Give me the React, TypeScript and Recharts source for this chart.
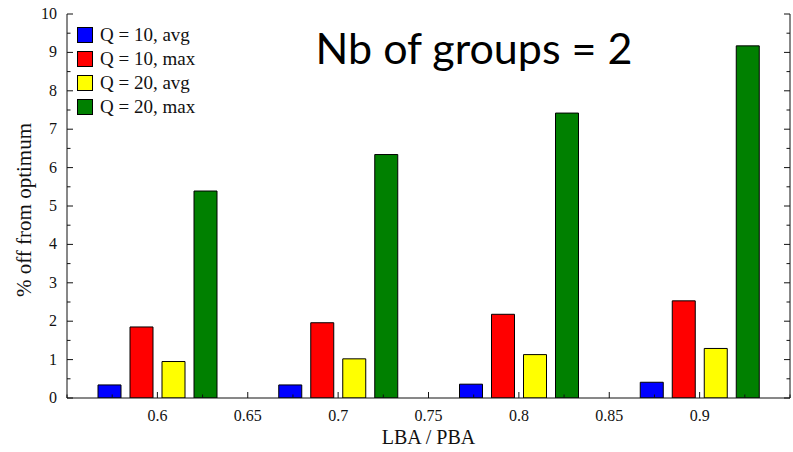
import { Bar, BarChart, XAxis, YAxis, Label } from 'recharts'

const ratios = [0.6, 0.7, 0.8, 0.9]
const q10Avg = [0.34, 0.34, 0.36, 0.41]
const q10Max = [1.85, 1.96, 2.18, 2.53]
const q20Avg = [0.95, 1.02, 1.13, 1.29]
const q20Max = [5.39, 6.34, 7.42, 9.17]

const xTicks = [0.55, 0.575, 0.6, 0.625, 0.65, 0.675, 0.7, 0.725, 0.75, 0.775, 0.8, 0.825, 0.85, 0.875, 0.9, 0.925, 0.95]
const xLabels = [0.6, 0.65, 0.7, 0.75, 0.8, 0.85, 0.9]
const yTicks = [0, 0.5, 1, 1.5, 2, 2.5, 3, 3.5, 4, 4.5, 5, 5.5, 6, 6.5, 7, 7.5, 8, 8.5, 9, 9.5, 10]

const series = [
  { key: 'q10avg', label: 'Q = 10, avg', color: '#0000ff', values: q10Avg },
  { key: 'q10max', label: 'Q = 10, max', color: '#ff0000', values: q10Max },
  { key: 'q20avg', label: 'Q = 20, avg', color: '#ffff00', values: q20Avg },
  { key: 'q20max', label: 'Q = 20, max', color: '#008000', values: q20Max },
]

const data = ratios.map((r, i) => {
  const row: Record<string, number> = { ratio: r }
  series.forEach(s => { row[s.key] = s.values[i] })
  return row
})

const SERIF = '"Liberation Serif", "DejaVu Serif", serif'
const INK = '#111'

const isMajorX = (v: number) => xLabels.some(l => Math.abs(l - v) < 1e-6)
const isMajorY = (v: number) => Math.abs(v - Math.round(v)) < 1e-6

function BottomTick({ x, y, payload }: any) {
  const major = isMajorX(payload.value)
  return (
    <g>
      <line x1={x} x2={x} y1={y} y2={y - (major ? 6 : 3.5)} stroke={INK} />
      {major && (
        <text x={x} y={y + 23} textAnchor="middle" fontFamily={SERIF} fontSize={16} fill={INK}>
          {String(payload.value)}
        </text>
      )}
    </g>
  )
}

function TopTick({ x, y, payload }: any) {
  const major = isMajorX(payload.value)
  return <line x1={x} x2={x} y1={y} y2={y + (major ? 6 : 3.5)} stroke={INK} />
}

function LeftTick({ x, y, payload }: any) {
  const major = isMajorY(payload.value)
  return (
    <g>
      <line x1={x} x2={x + (major ? 6 : 3.5)} y1={y} y2={y} stroke={INK} />
      {major && (
        <text x={x - 10} y={y + 5} textAnchor="end" fontFamily={SERIF} fontSize={16} fill={INK}>
          {String(payload.value)}
        </text>
      )}
    </g>
  )
}

function RightTick({ x, y, payload }: any) {
  const major = isMajorY(payload.value)
  return <line x1={x} x2={x - (major ? 6 : 3.5)} y1={y} y2={y} stroke={INK} />
}

function LegendBox() {
  return (
    <div style={{ position: 'absolute', left: 77, top: 23 }}>
      {series.map(s => (
        <div key={s.key} style={{ display: 'flex', alignItems: 'center', height: 24 }}>
          <span style={{ width: 14, height: 14, background: s.color, border: '1px solid #000', display: 'inline-block' }} />
          <span style={{ marginLeft: 7, fontFamily: SERIF, fontSize: 19, color: INK, whiteSpace: 'nowrap' }}>{s.label}</span>
        </div>
      ))}
    </div>
  )
}

export default function App() {
  return (
    <div style={{ position: 'absolute', left: 0, top: 0, width: 793, height: 452, background: '#fff' }}>
      <BarChart width={793} height={452} data={data} barSize={23} barGap={9}
                margin={{ top: 14, right: 0, left: 0, bottom: 0 }}>
        <XAxis dataKey="ratio" type="number" domain={[0.55, 0.95]} ticks={xTicks} interval={0}
               allowDataOverflow height={54} tickSize={0} tickMargin={0} tickLine={false}
               axisLine={{ stroke: INK }} tick={<BottomTick />}>
          <Label content={({ viewBox }: any) => (
            <text x={viewBox.x + viewBox.width / 2} y={viewBox.y + 46} textAnchor="middle"
                  fontFamily={SERIF} fontSize={20} fill={INK}>LBA / PBA</text>
          )} />
        </XAxis>
        <XAxis xAxisId="top" orientation="top" type="number" domain={[0.55, 0.95]} ticks={xTicks}
               interval={0} allowDataOverflow height={0} tickSize={0} tickMargin={0} tickLine={false}
               axisLine={{ stroke: INK }} tick={<TopTick />} />
        <YAxis type="number" domain={[0, 10]} ticks={yTicks} interval={0} allowDataOverflow width={67}
               tickSize={0} tickMargin={0} tickLine={false} axisLine={{ stroke: INK }} tick={<LeftTick />}>
          <Label content={({ viewBox }: any) => {
            const cx = viewBox.x + 24
            const cy = viewBox.y + viewBox.height / 2 + 4
            return (
              <text x={cx} y={cy} transform={`rotate(-90 ${cx} ${cy})`} textAnchor="middle"
                    dominantBaseline="central" fontFamily={SERIF} fontSize={21} fill={INK}>% off from optimum</text>
            )
          }} />
        </YAxis>
        <YAxis yAxisId="right" orientation="right" type="number" domain={[0, 10]} ticks={yTicks} interval={0}
               allowDataOverflow width={3} tickSize={0} tickMargin={0} tickLine={false}
               axisLine={{ stroke: INK }} tick={<RightTick />} />
        {series.map(s => (
          <Bar key={s.key} dataKey={s.key} name={s.label} fill={s.color} stroke="#000" strokeWidth={1}
               isAnimationActive={false} />
        ))}
      </BarChart>
      <LegendBox />
      <div style={{ position: 'absolute', left: 310, top: 22, width: 328, textAlign: 'center',
                    fontFamily: 'Lato, "Open Sans", sans-serif', fontSize: 43, color: '#000', lineHeight: '52px',
                    whiteSpace: 'nowrap' }}>
        Nb of groups = 2
      </div>
    </div>
  )
}
